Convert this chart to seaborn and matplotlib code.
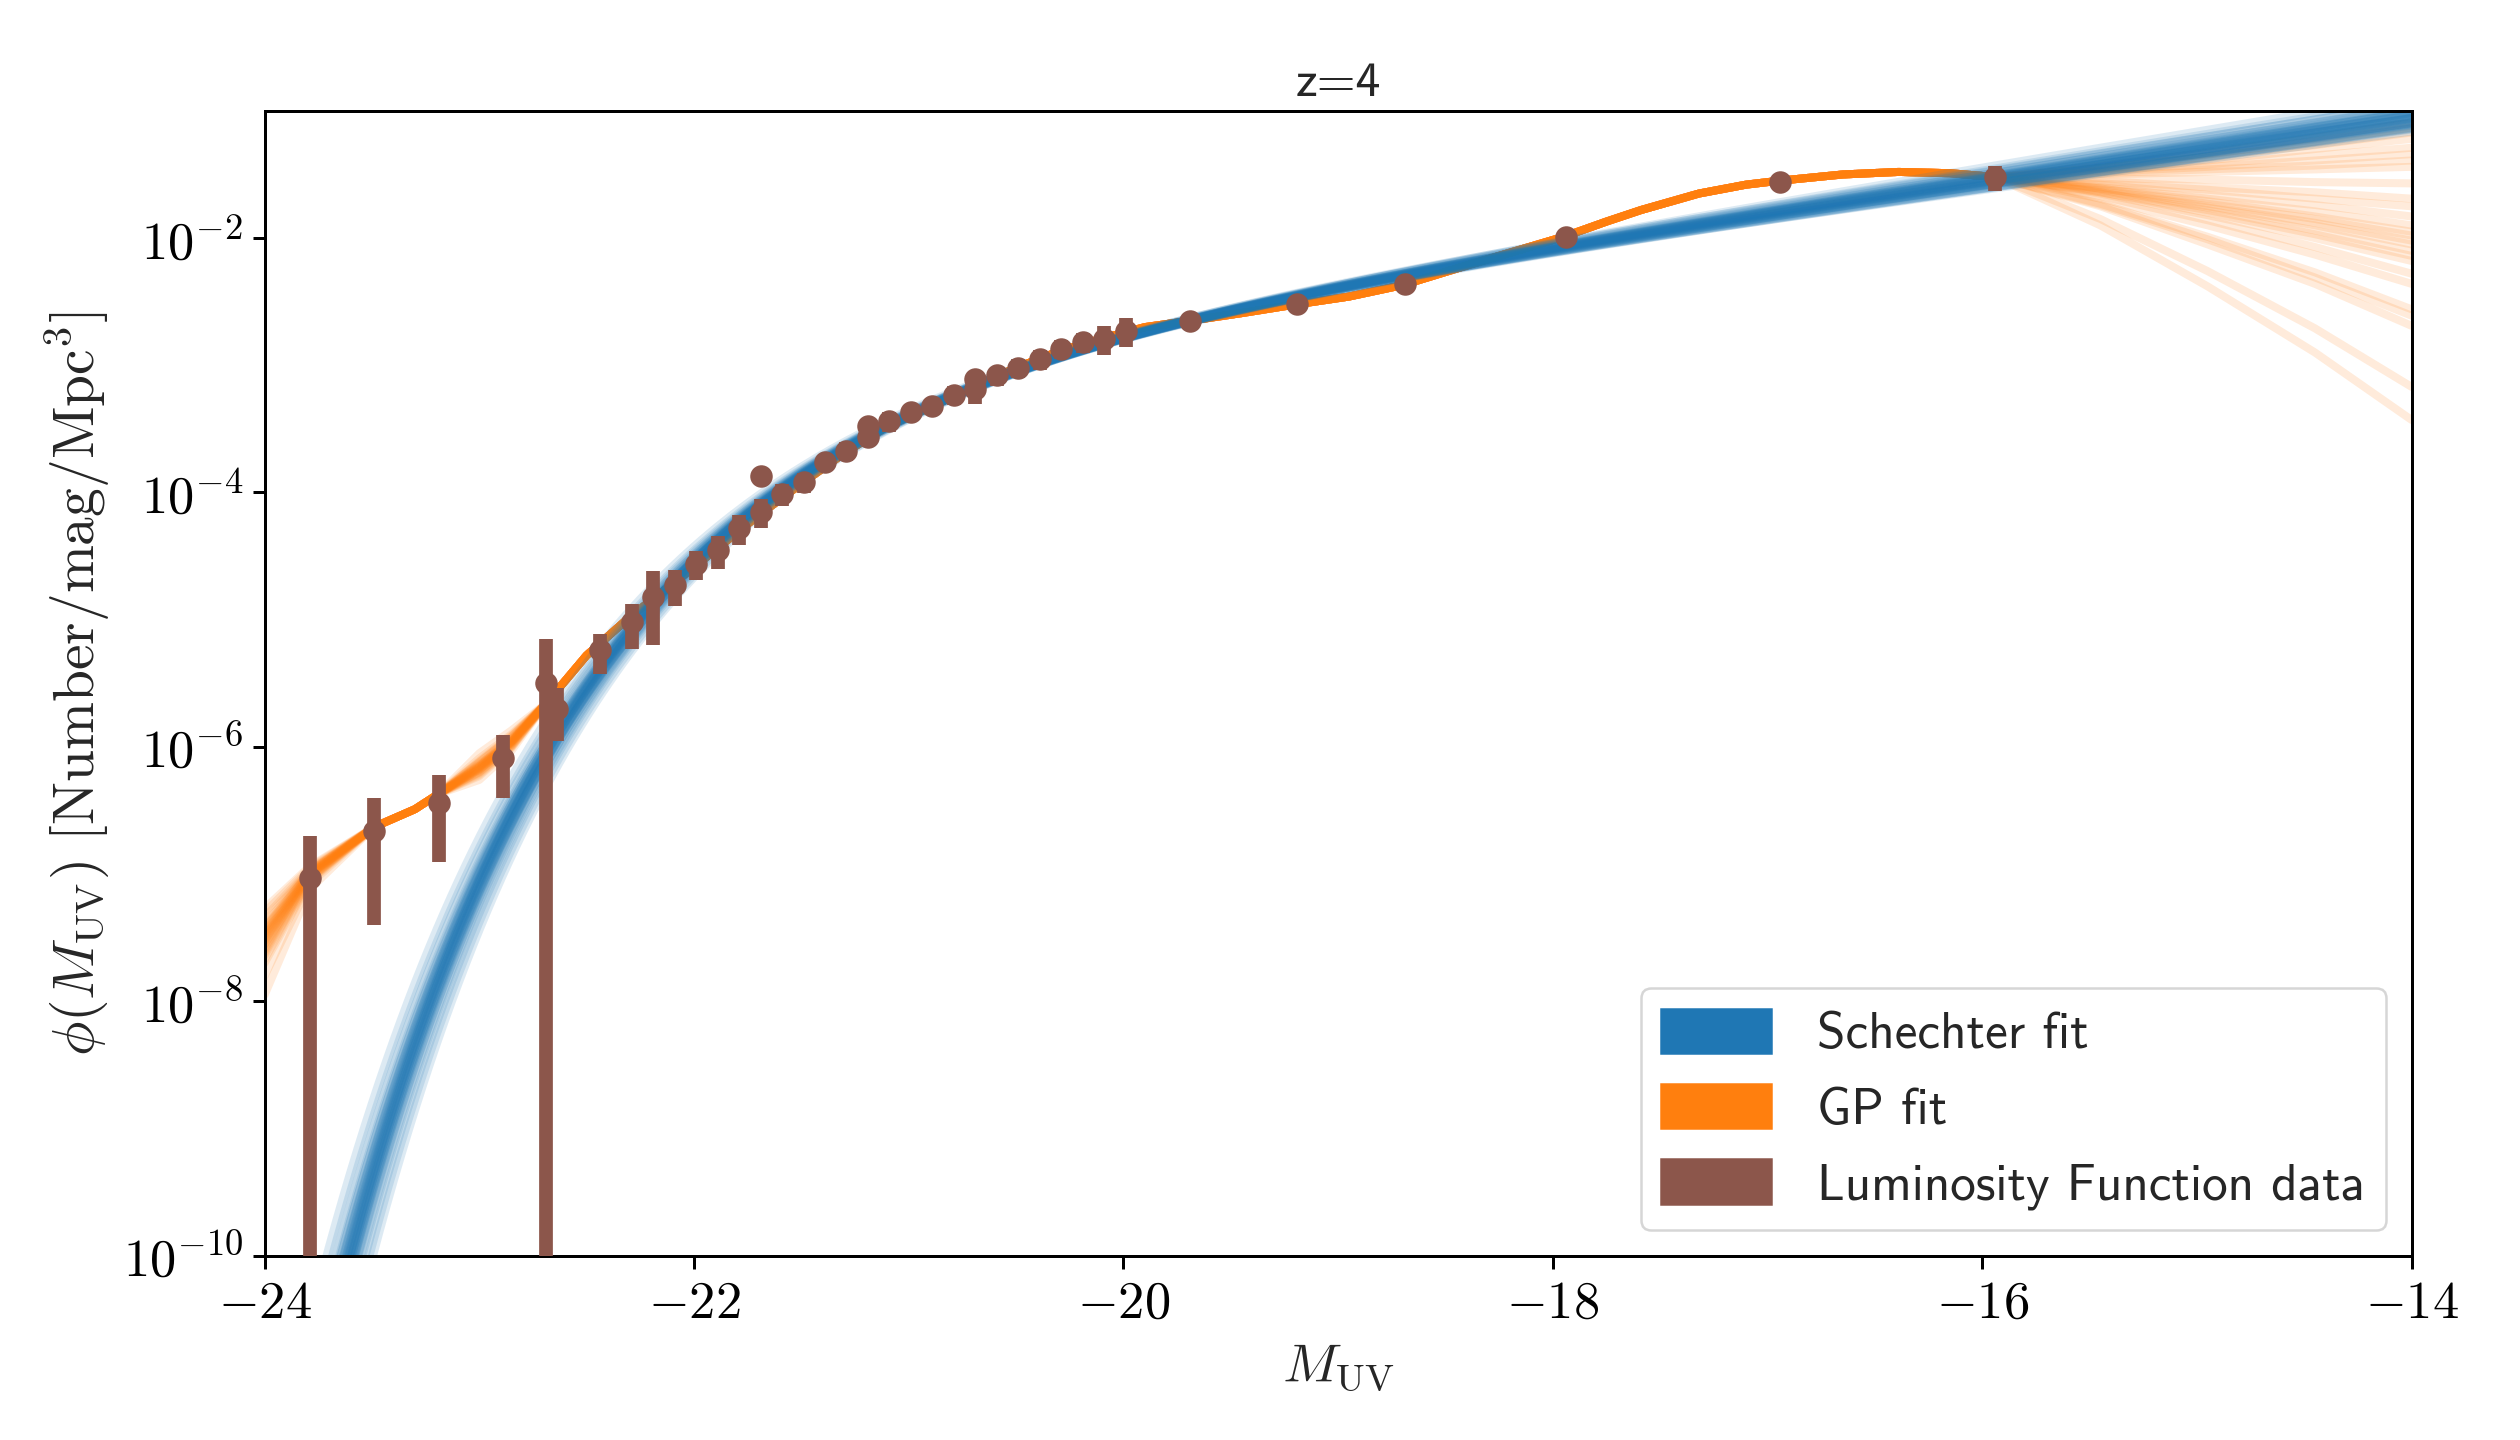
import numpy as np
import pandas as pd
import matplotlib
matplotlib.use("Agg")
import matplotlib.pyplot as plt
import seaborn as sns
from matplotlib.patches import Patch

# luminosity function data: magnitude, log10 phi, log10 of upper end of error bar
lf_M = [-23.79, -23.49, -23.19, -22.89, -22.69, -22.64, -22.44, -22.29, -22.19, -22.09,
        -21.99, -21.89, -21.79, -21.69, -21.69, -21.59, -21.49, -21.39, -21.29, -21.19,
        -21.19, -21.09, -20.99, -20.89, -20.79, -20.69, -20.69, -20.59, -20.49, -20.39,
        -20.29, -20.19, -20.09, -19.99, -19.69, -19.19, -18.69, -17.94, -16.94, -15.94]
lf_logphi = [-7.03, -6.66, -6.44, -6.09, -5.50, -5.70, -5.24, -5.02, -4.82, -4.73,
             -4.56, -4.45, -4.28, -3.87, -4.15, -4.01, -3.92, -3.76, -3.67, -3.48,
             -3.56, -3.44, -3.37, -3.32, -3.23, -3.11, -3.19, -3.08, -3.02, -2.95,
             -2.87, -2.82, -2.79, -2.73, -2.65, -2.52, -2.36, -1.99, -1.56, -1.52]
lf_loghi = [-6.70, -6.40, -6.22, -5.91, -5.15, -5.54, -5.11, -4.88, -4.62, -4.61,
            -4.46, -4.34, -4.18, -3.85, -4.05, -3.93, -3.85, -3.70, -3.60, -3.42,
            -3.50, -3.37, -3.31, -3.26, -3.16, -3.05, -3.10, -3.01, -2.95, -2.88,
            -2.80, -2.75, -2.69, -2.63, -2.63, -2.50, -2.33, -1.97, -1.54, -1.43]

# Schechter posterior samples: M*, alpha, log10 phi*
sch_mstar = [-20.65, -20.63, -20.67, -20.61, -20.69, -20.64, -20.66, -20.62, -20.68, -20.60,
             -20.70, -20.65, -20.64, -20.66, -20.63, -20.67, -20.59, -20.71, -20.62, -20.68,
             -20.57, -20.73, -20.55, -20.75, -20.53, -20.78, -20.65, -20.64, -20.66, -20.65,
             -20.70, -20.72]
sch_alpha = [-1.62, -1.61, -1.63, -1.60, -1.64, -1.62, -1.61, -1.63, -1.62, -1.60,
             -1.64, -1.66, -1.59, -1.63, -1.62, -1.61, -1.60, -1.64, -1.59, -1.65,
             -1.58, -1.65, -1.58, -1.66, -1.57, -1.67, -1.60, -1.64, -1.62, -1.63,
             -1.68, -1.70]
sch_logphistar = [-2.67, -2.66, -2.68, -2.65, -2.69, -2.67, -2.68, -2.66, -2.68, -2.65,
                  -2.69, -2.67, -2.66, -2.68, -2.66, -2.68, -2.64, -2.70, -2.66, -2.68,
                  -2.63, -2.71, -2.62, -2.72, -2.61, -2.73, -2.67, -2.67, -2.68, -2.67,
                  -2.71, -2.73]

# GP samples: per-sample bright end, shared middle, per-sample faint end (log10 phi)
gp_M_left = [-24.0, -23.79]
gp_left = [(-7.30, -6.95), (-7.34, -6.96), (-7.37, -6.97), (-7.40, -6.97), (-7.42, -6.98),
           (-7.44, -6.98), (-7.45, -6.99), (-7.46, -6.99), (-7.47, -7.00), (-7.48, -7.00),
           (-7.50, -7.00), (-7.51, -7.01), (-7.52, -7.01), (-7.53, -7.01), (-7.55, -7.02),
           (-7.56, -7.02), (-7.58, -7.03), (-7.60, -7.03), (-7.62, -7.04), (-7.64, -7.04),
           (-7.67, -7.05), (-7.70, -7.06), (-7.43, -6.98), (-7.49, -7.00), (-7.80, -7.08),
           (-7.95, -7.12), (-7.27, -6.94)]
gp_M_a = [-23.49, -23.3, -23.19]
gp_logphi_a = [-6.63, -6.49, -6.37]
gp_M_b = [-23.0, -22.85]
gp_b = [(-6.09, -5.90), (-6.11, -5.91), (-6.12, -5.92), (-6.13, -5.93), (-6.14, -5.94),
        (-6.15, -5.95), (-6.15, -5.95), (-6.16, -5.96), (-6.16, -5.96), (-6.17, -5.96),
        (-6.17, -5.97), (-6.18, -5.97), (-6.18, -5.98), (-6.19, -5.98), (-6.20, -5.99),
        (-6.21, -6.00), (-6.22, -6.00), (-6.23, -6.01), (-6.14, -5.94), (-6.16, -5.96),
        (-6.18, -5.97), (-6.12, -5.92), (-6.20, -5.99), (-6.26, -6.03), (-6.05, -5.87),
        (-6.17, -5.96), (-6.15, -5.95)]
gp_M_mid = [-22.69, -22.5, -22.3, -22.1, -21.9,
            -21.7, -21.5, -21.3, -21.1, -20.9, -20.7, -20.5, -20.3, -20.1, -19.9,
            -19.69, -19.45, -19.19, -18.95, -18.7, -18.39, -18.15, -17.95, -17.75, -17.59,
            -17.32, -17.1, -16.95, -16.65, -16.39, -16.15, -15.94]
gp_logphi_mid = [-5.66, -5.28, -4.98, -4.72, -4.45,
                 -4.18, -3.93, -3.69, -3.48, -3.33, -3.17, -3.02, -2.89, -2.79, -2.70,
                 -2.65, -2.59, -2.52, -2.46, -2.37, -2.21, -2.09, -1.99, -1.87, -1.78,
                 -1.65, -1.58, -1.55, -1.50, -1.48, -1.49, -1.52]
gp_M_right = [-15.45, -14.95, -14.45, -14.0]
gp_right = [(-1.43, -1.33, -1.21, -1.09), (-1.44, -1.34, -1.24, -1.13), (-1.45, -1.36, -1.27, -1.17),
            (-1.46, -1.39, -1.30, -1.22), (-1.47, -1.42, -1.35, -1.29), (-1.48, -1.44, -1.39, -1.34),
            (-1.49, -1.46, -1.43, -1.39), (-1.50, -1.48, -1.46, -1.44), (-1.53, -1.54, -1.56, -1.57),
            (-1.55, -1.60, -1.64, -1.69), (-1.57, -1.62, -1.69, -1.75), (-1.58, -1.66, -1.74, -1.83),
            (-1.60, -1.69, -1.79, -1.90), (-1.61, -1.71, -1.83, -1.95), (-1.61, -1.73, -1.85, -1.98),
            (-1.62, -1.75, -1.88, -2.02), (-1.63, -1.76, -1.90, -2.05), (-1.64, -1.78, -1.94, -2.10),
            (-1.64, -1.80, -1.97, -2.14), (-1.65, -1.82, -2.00, -2.18), (-1.67, -1.86, -2.07, -2.28),
            (-1.69, -1.90, -2.13, -2.36), (-1.73, -1.99, -2.27, -2.56), (-1.74, -2.01, -2.31, -2.61),
            (-1.75, -2.05, -2.36, -2.69), (-1.85, -2.26, -2.71, -3.17), (-1.90, -2.38, -2.90, -3.43)]

x_ticks = [-24, -22, -20, -18, -16, -14]
x_ticklabels = [r"$-24$", r"$-22$", r"$-20$", r"$-18$", r"$-16$", r"$-14$"]
y_ticks = [1e-10, 1e-8, 1e-6, 1e-4, 1e-2]
y_ticklabels = [r"$10^{-10}$", r"$10^{-8}$", r"$10^{-6}$", r"$10^{-4}$", r"$10^{-2}$"]


def schechter(M, mstar, alpha, logphistar):
    x = 10 ** (0.4 * (mstar - M))
    return 0.4 * np.log(10) * 10 ** logphistar * x ** (alpha + 1) * np.exp(-x)


sns.set_style("ticks")
plt.rcParams["mathtext.fontset"] = "cm"
plt.rcParams["axes.edgecolor"] = "black"
plt.rcParams["xtick.color"] = "black"
plt.rcParams["ytick.color"] = "black"

# long tables for seaborn
M_grid = np.linspace(-24, -14, 300)
rows = []
for i in range(len(sch_mstar)):
    phi = schechter(M_grid, sch_mstar[i], sch_alpha[i], sch_logphistar[i])
    for m, p in zip(M_grid, phi):
        rows.append((i, m, p))
sch_df = pd.DataFrame(rows, columns=["sample", "M", "phi"])

rows = []
for i in range(len(gp_left)):
    Ms = gp_M_left + gp_M_a + gp_M_b + gp_M_mid + gp_M_right
    logs = list(gp_left[i]) + gp_logphi_a + list(gp_b[i]) + gp_logphi_mid + list(gp_right[i])
    for m, lp in zip(Ms, logs):
        rows.append((i, m, 10 ** lp))
gp_df = pd.DataFrame(rows, columns=["sample", "M", "phi"])

fig, ax = plt.subplots(figsize=(14, 8), dpi=180)
fig.subplots_adjust(left=0.105, right=0.957, bottom=0.128, top=0.923)

sns.lineplot(data=gp_df, x="M", y="phi", units="sample", estimator=None,
             color="#ff7f0e", alpha=0.15, lw=3.2, ax=ax, legend=False)
sns.lineplot(data=sch_df, x="M", y="phi", units="sample", estimator=None,
             color="#1f77b4", alpha=0.15, lw=3.6, ax=ax, legend=False)

phi = 10 ** np.array(lf_logphi)
err = 10 ** np.array(lf_loghi) - phi
err_lo = np.minimum(err, phi - 1e-13)
ax.errorbar(lf_M, phi, yerr=[err_lo, err], fmt="o", color="#8c564b",
            ms=8, elinewidth=5.5, capsize=0, zorder=5)

ax.set_yscale("log")
ax.set_xlim(-24, -14)
ax.set_ylim(1e-10, 1e-1)
ax.set_xticks(x_ticks)
ax.set_xticklabels(x_ticklabels)
ax.set_yticks(y_ticks)
ax.set_yticklabels(y_ticklabels)
ax.yaxis.set_minor_locator(matplotlib.ticker.NullLocator())
ax.tick_params(labelsize=21, length=5, width=1.2)
for s in ax.spines.values():
    s.set_linewidth(1.2)

ax.set_xlabel(r"$M_{\rm UV}$", fontsize=22)
ax.set_ylabel(r"$\phi(M_{\rm UV})\ [\mathrm{Number/mag/Mpc}^3]$", fontsize=23)
ax.set_title("z=4", fontsize=20, family="cmss10")

handles = [Patch(color="#1f77b4", label="Schechter fit"),
           Patch(color="#ff7f0e", label="GP fit"),
           Patch(color="#8c564b", label="Luminosity Function data")]
ax.legend(handles=handles, loc="lower right", frameon=True,
          prop={"family": "cmss10", "size": 20.5}, handlelength=2.15,
          handleheight=0.95, labelspacing=0.5, handletextpad=0.9)

fig.savefig("out.png", dpi=180)
